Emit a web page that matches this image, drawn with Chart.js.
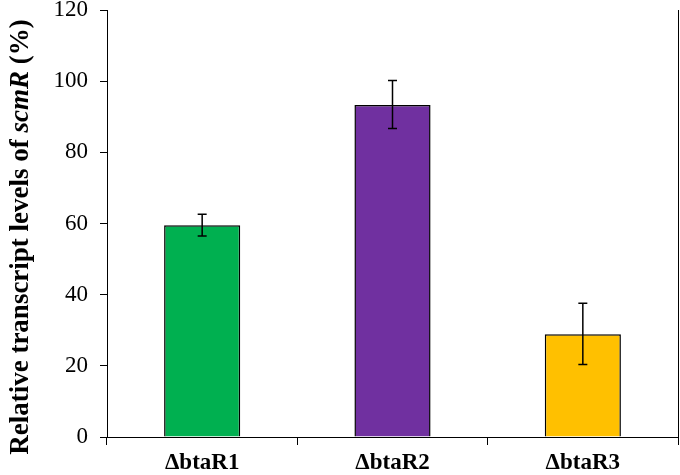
<!DOCTYPE html>
<html>
<head>
<meta charset="utf-8">
<script src="https://cdn.jsdelivr.net/npm/chart.js@4"></script>
<style>
  html, body { margin: 0; padding: 0; background: #fff; }
  #wrap { width: 680px; height: 475px; }
</style>
</head>
<body>
<div id="wrap"><canvas id="myBarChart"></canvas></div>
<script>
const strains = ['\u0394btaR1', '\u0394btaR2', '\u0394btaR3'];
const levels = [59.5, 93.3, 28.9];
const errLow = [56.5, 86.7, 20.4];
const errHigh = [62.6, 100.2, 37.6];
const barColors = ['#00B050', '#7030A0', '#FFC000'];
const yTicks = [0, 20, 40, 60, 80, 100, 120];

const serif = "'Liberation Serif', 'Times New Roman', serif";

// error bars + y title with italic gene name + right frame line
const extras = {
  id: 'extras',
  afterDatasetsDraw(chart) {
    const { ctx, scales: { x, y }, chartArea } = chart;
    ctx.save();
    ctx.strokeStyle = '#000';
    ctx.lineWidth = 1.5;
    strains.forEach((s, i) => {
      const cx = x.getPixelForValue(i);
      const yl = y.getPixelForValue(errLow[i]);
      const yh = y.getPixelForValue(errHigh[i]);
      ctx.beginPath();
      ctx.moveTo(cx, yl); ctx.lineTo(cx, yh);
      ctx.moveTo(cx - 4.5, yh); ctx.lineTo(cx + 4.5, yh);
      ctx.moveTo(cx - 4.5, yl); ctx.lineTo(cx + 4.5, yl);
      ctx.stroke();
    });
    // right frame
    ctx.lineWidth = 1;
    ctx.beginPath();
    ctx.moveTo(chartArea.right + 0.5, chartArea.top);
    ctx.lineTo(chartArea.right + 0.5, chartArea.bottom + 8);
    ctx.stroke();

    // y axis title
    const parts = [
      ['Relative transcript levels of ', 'bold 27px ' + serif],
      ['scmR', 'italic bold 27px ' + serif],
      [' (%)', 'bold 27px ' + serif]
    ];
    let total = 0;
    parts.forEach(p => { ctx.font = p[1]; total += ctx.measureText(p[0]).width; });
    ctx.translate(21, 237);
    ctx.rotate(-Math.PI / 2);
    ctx.fillStyle = '#000';
    ctx.textBaseline = 'middle';
    let pos = -total / 2;
    parts.forEach(p => {
      ctx.font = p[1];
      ctx.fillText(p[0], pos, 0);
      pos += ctx.measureText(p[0]).width;
    });
    ctx.restore();
  }
};

const ctx = document.getElementById('myBarChart').getContext('2d');
new Chart(ctx, {
  type: 'bar',
  data: {
    labels: strains,
    datasets: [{
      data: levels,
      backgroundColor: barColors,
      borderColor: '#000',
      borderWidth: 1.5,
      barPercentage: 0.8,
      categoryPercentage: 0.5
    }]
  },
  options: {
    responsive: true,
    maintainAspectRatio: false,
    animation: false,
    layout: { padding: { top: 10, right: 2, left: 0, bottom: 0 } },
    plugins: { legend: { display: false }, tooltip: { enabled: false } },
    scales: {
      x: {
        grid: { display: true, drawOnChartArea: false, drawTicks: true, tickLength: 8, color: '#000', offset: true },
        border: { color: '#000', width: 1 },
        ticks: { color: '#000', font: { family: serif, size: 23, weight: 'bold' }, padding: 4 },
        afterFit(scale) { scale.height = 38; }
      },
      y: {
        min: 0,
        max: 120,
        afterBuildTicks(scale) { scale.ticks = yTicks.map(v => ({ value: v })); },
        grid: { display: true, drawOnChartArea: false, drawTicks: true, tickLength: 7, color: '#000' },
        border: { color: '#000', width: 1 },
        ticks: { color: '#000', font: { family: serif, size: 23 }, padding: 12 },
        afterFit(scale) { scale.width = 107; scale.paddingTop = 0; scale.paddingBottom = 0; }
      }
    }
  },
  plugins: [extras]
});
</script>
</body>
</html>
